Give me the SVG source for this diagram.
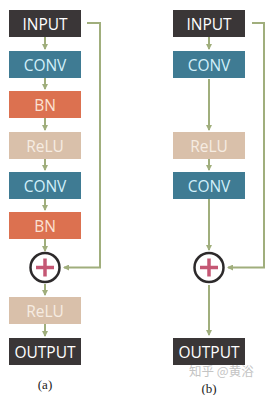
<svg xmlns="http://www.w3.org/2000/svg" width="272" height="395" viewBox="0 0 272 395">
<defs>
<style>
.box{stroke:none}
.in{fill:#3a3637}
.conv{fill:#3f7b93}
.bn{fill:#dc7150}
.relu{fill:#d9c0aa}
.t{font-family:"Open Sans","Liberation Sans",sans-serif;font-size:15.5px;text-anchor:middle;dominant-baseline:central}
.tin{fill:#ffffff}
.tconv{fill:#d2f0fb}
.tbn{fill:#fbe1d3}
.trelu{fill:#f6ece2}
.ln{stroke:#a0ae7c;stroke-width:2;fill:none}
.plus{stroke:#c55774;stroke-width:3.5;stroke-linecap:butt}
.ring{fill:#ffffff;stroke:#2d2a2b;stroke-width:2.5}
.lab{font-family:"Liberation Serif",serif;font-size:13px;fill:#222;text-anchor:middle}
.wm{font-family:"Noto Sans CJK SC",sans-serif;font-size:12.5px;fill:#c4c4c4}
</style>
<marker id="ah" markerWidth="6" markerHeight="6" refX="5" refY="3" orient="auto" markerUnits="userSpaceOnUse">
<path d="M0,0 L6,3 L0,6 Z" fill="#a0ae7c"/>
</marker>
</defs>
<g id="connectors">
<line class="ln" x1="45" y1="37" x2="45" y2="49" marker-end="url(#ah)"/>
<line class="ln" x1="45" y1="78" x2="45" y2="89" marker-end="url(#ah)"/>
<line class="ln" x1="45" y1="118" x2="45" y2="130" marker-end="url(#ah)"/>
<line class="ln" x1="45" y1="159" x2="45" y2="170" marker-end="url(#ah)"/>
<line class="ln" x1="45" y1="199" x2="45" y2="210" marker-end="url(#ah)"/>
<line class="ln" x1="45" y1="239" x2="45" y2="251" marker-end="url(#ah)"/>
<line class="ln" x1="45" y1="284" x2="45" y2="295" marker-end="url(#ah)"/>
<line class="ln" x1="45" y1="324" x2="45" y2="336" marker-end="url(#ah)"/>
<polyline class="ln" points="87,23 100,23 100,267.5 64,267.5" marker-end="url(#ah)"/>
<line class="ln" x1="209" y1="37" x2="209" y2="49" marker-end="url(#ah)"/>
<line class="ln" x1="209" y1="79" x2="209" y2="130" marker-end="url(#ah)"/>
<line class="ln" x1="209" y1="159" x2="209" y2="170" marker-end="url(#ah)"/>
<line class="ln" x1="209" y1="199" x2="209" y2="250" marker-end="url(#ah)"/>
<line class="ln" x1="209" y1="285" x2="209" y2="335" marker-end="url(#ah)"/>
<polyline class="ln" points="252,23 264,23 264,267.5 228,267.5" marker-end="url(#ah)"/>
</g>
<g id="a-input"><rect class="box in" x="9" y="10" width="72" height="27"/><text class="t tin" x="45" y="23.5">INPUT</text></g>
<g id="a-conv1"><rect class="box conv" x="9" y="51" width="72" height="27"/><text class="t tconv" x="45" y="64.5">CONV</text></g>
<g id="a-bn1"><rect class="box bn" x="9" y="91" width="72" height="27"/><text class="t tbn" x="45" y="104.5">BN</text></g>
<g id="a-relu1"><rect class="box relu" x="9" y="132" width="72" height="27"/><text class="t trelu" x="45" y="145.5">ReLU</text></g>
<g id="a-conv2"><rect class="box conv" x="9" y="172" width="72" height="27"/><text class="t tconv" x="45" y="185.5">CONV</text></g>
<g id="a-bn2"><rect class="box bn" x="9" y="212" width="72" height="27"/><text class="t tbn" x="45" y="225.5">BN</text></g>
<g id="a-add"><circle class="ring" cx="45" cy="267.5" r="14.5"/><line class="plus" x1="36" y1="267.5" x2="54" y2="267.5"/><line class="plus" x1="45" y1="258.5" x2="45" y2="276.5"/></g>
<g id="a-relu2"><rect class="box relu" x="9" y="297" width="72" height="27"/><text class="t trelu" x="45" y="310.5">ReLU</text></g>
<g id="a-output"><rect class="box in" x="9" y="338" width="72" height="27"/><text class="t tin" x="45" y="351.5">OUTPUT</text></g>
<g id="b-input"><rect class="box in" x="173" y="10" width="72" height="27"/><text class="t tin" x="209" y="23.5">INPUT</text></g>
<g id="b-conv1"><rect class="box conv" x="173" y="51" width="72" height="27"/><text class="t tconv" x="209" y="64.5">CONV</text></g>
<g id="b-relu"><rect class="box relu" x="173" y="132" width="72" height="27"/><text class="t trelu" x="209" y="145.5">ReLU</text></g>
<g id="b-conv2"><rect class="box conv" x="173" y="172" width="72" height="27"/><text class="t tconv" x="209" y="185.5">CONV</text></g>
<g id="b-add"><circle class="ring" cx="209" cy="267.5" r="14.5"/><line class="plus" x1="200" y1="267.5" x2="218" y2="267.5"/><line class="plus" x1="209" y1="258.5" x2="209" y2="276.5"/></g>
<g id="b-output"><rect class="box in" x="173" y="338" width="72" height="27"/><text class="t tin" x="209" y="351.5">OUTPUT</text></g>
<text class="wm" x="189" y="375.5">知乎 @黄浴</text>
<text class="lab" x="45" y="389">(a)</text>
<text class="lab" x="209" y="392.5">(b)</text>
</svg>
